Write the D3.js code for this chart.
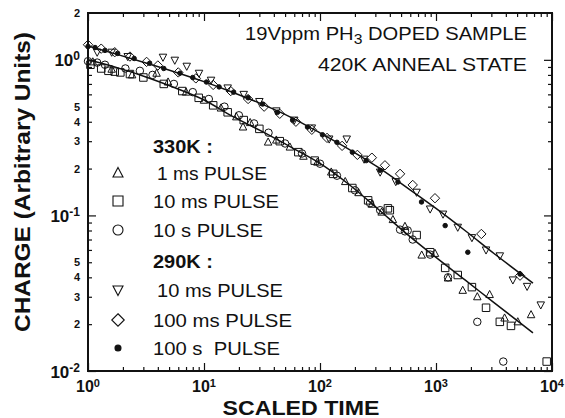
<!DOCTYPE html>
<html>
<head>
<meta charset="utf-8">
<script src="https://cdn.jsdelivr.net/npm/d3@7"></script>
<style>
  body { margin: 0; background: #fff; }
  text { font-family: "Liberation Sans", Arial, sans-serif; fill: #111; }
</style>
</head>
<body>
<div id="chart"></div>
<script>
// fitted curves (scaled time, charge)
const fitT   = [1, 1.78, 3.16, 5.62, 10, 17.8, 31.6, 56.2, 100, 178, 316, 562, 1000, 1778, 3162, 6855];
const fit290 = [1.227, 1.084, 0.955, 0.836, 0.724, 0.617, 0.519, 0.427, 0.339, 0.266, 0.204, 0.151, 0.111, 0.080, 0.0569, 0.0367];
const fit330 = [1.0, 0.891, 0.776, 0.661, 0.552, 0.431, 0.347, 0.275, 0.216, 0.158, 0.110, 0.0759, 0.0537, 0.0385, 0.0275, 0.0176];

// 330K measurements
const tri1ms = [[1.1,0.97],[1.6,0.87],[2.4,0.80],[3.9,0.82],[4.9,0.72],[7,0.62],[10,0.55],[14,0.49],[19,0.43],[21.7,0.37],
  [25,0.395],[35.7,0.296],[42,0.305],[55,0.275],[72,0.24],[95,0.22],[125,0.19],[165,0.165],[215,0.14],[280,0.118],
  [340,0.105],[425,0.094],[540,0.085],[753,0.0556],[980,0.057],[1270,0.0396],[1700,0.033],[2270,0.030],[2900,0.031],
  [3900,0.0219],[5070,0.0207],[6600,0.023]];
const sq10ms = [[1.05,0.93],[1.3,0.88],[1.5,0.85],[1.7,0.84],[1.9,0.83],[2.3,0.81],[3.0,0.77],[4.5,0.70],[6.5,0.63],
  [9,0.57],[12,0.51],[16,0.46],[22,0.41],[30,0.36],[45,0.30],[65,0.255],[90,0.225],[130,0.185],[190,0.15],[260,0.125],
  [385,0.111],[400,0.108],[681,0.0748],[890,0.058],[1200,0.046],[1540,0.0414],[2040,0.0346],[2700,0.0255],[3550,0.0207],
  [4430,0.0195],[9000,0.0115]];
const circ10s = [[1.0,0.98],[1.2,0.96],[1.4,0.93],[2.1,0.88],[2.8,0.85],[3.6,0.80],[5.5,0.70],[8,0.62],[11,0.56],[15,0.50],
  [20,0.44],[27,0.39],[36,0.34],[50,0.29],[70,0.25],[100,0.215],[140,0.18],[200,0.145],[270,0.12],[330,0.108],[490,0.081],
  [540,0.079],[570,0.08],[630,0.07],[890,0.056],[1270,0.04],[2270,0.0207],[3800,0.0115]];

// 290K measurements
const dtri10ms = [[1.2,1.12],[1.6,1.12],[2.2,1.05],[4.43,1.04],[5.6,0.995],[7.1,0.91],[9.06,0.82],[11.5,0.74],[16,0.66],
  [22,0.6],[30,0.54],[42,0.47],[60,0.41],[85,0.365],[120,0.31],[170,0.31],[240,0.23],[330,0.19],[450,0.165],[680,0.141],
  [890,0.11],[1150,0.102],[1540,0.084],[2040,0.072],[2700,0.06],[3550,0.055],[4600,0.0385],[6100,0.035],[8000,0.0266]];
const dia100ms = [[1.0,1.25],[1.3,1.18],[1.7,1.12],[2.3,1.05],[3.2,0.97],[4.0,0.92],[6,0.83],[8.5,0.76],[12,0.69],[17,0.63],
  [24,0.56],[33,0.50],[45,0.45],[62,0.40],[85,0.355],[115,0.315],[155,0.28],[210,0.245],[280,0.235],[363,0.21],[490,0.185],
  [630,0.157],[980,0.129],[2460,0.076],[5300,0.041]];
const dot100s = [[1.0,1.22],[1.15,1.2],[1.4,1.15],[1.8,1.1],[2.5,1.02],[3.4,0.95],[4.5,0.88],[6.2,0.82],[8,0.77],[10.5,0.72],
  [13.5,0.67],[18,0.62],[24,0.57],[32,0.52],[43,0.46],[58,0.41],[78,0.37],[105,0.33],[140,0.295],[190,0.255],[250,0.225],
  [330,0.195],[470,0.164],[750,0.122],[1200,0.086],[1880,0.058],[5300,0.042]];

// ticks and labels
const xMajor = [1, 10, 100, 1000, 10000];
const yMajor = [0.01, 0.1, 1];
const yLabelMinor = [2, 0.5, 0.4, 0.3, 0.2, 0.05, 0.04, 0.03, 0.02];
const legendLabels = ["1 ms PULSE", "10 ms PULSE", "10 s PULSE", "10 ms PULSE", "100 ms PULSE", "100 s  PULSE"];
const legendHeads = ["330K :", "290K :"];

const margin = {top: 13, right: 13, bottom: 47, left: 88},
      width = 565 - margin.left - margin.right,
      height = 418 - margin.top - margin.bottom;

const x = d3.scaleLog().domain([1, 1e4]).range([0, width]);
const y = d3.scaleLog().domain([0.01, 2]).range([height, 0]);

const svg = d3.select("#chart").append("svg")
    .attr("width", 565)
    .attr("height", 418)
  .append("g")
    .attr("transform", "translate(" + margin.left + "," + margin.top + ")");

// minor ticks
const xMinor = [], yMinor = [];
[1, 10, 100, 1000].forEach(d => { for (let k = 2; k <= 9; k++) xMinor.push(d * k); });
[0.01, 0.1].forEach(d => { for (let k = 2; k <= 9; k++) yMinor.push(d * k); });

function ticks(axis, vals, size, tr) {
  svg.append("g")
     .attr("transform", tr || null)
     .call(axis.tickValues(vals).tickSize(size).tickFormat(""))
     .call(g => g.select(".domain").remove())
     .call(g => g.selectAll("line").attr("stroke", "#111").attr("stroke-width", 1.2));
}
ticks(d3.axisBottom(x), xMajor, -8, "translate(0," + height + ")");
ticks(d3.axisBottom(x), xMinor, -4, "translate(0," + height + ")");
ticks(d3.axisTop(x), xMajor, -8);
ticks(d3.axisTop(x), xMinor, -4);
ticks(d3.axisLeft(y), yMajor, -8);
ticks(d3.axisLeft(y), yMinor, -4);
ticks(d3.axisRight(y), yMajor, -8, "translate(" + width + ",0)");
ticks(d3.axisRight(y), yMinor, -4, "translate(" + width + ",0)");

svg.append("rect")
   .attr("width", width).attr("height", height)
   .attr("fill", "none").attr("stroke", "#111").attr("stroke-width", 2);

// tick labels
const xl = svg.append("g").selectAll("text").data(xMajor).enter().append("text")
   .attr("x", d => x(d) - 12)
   .attr("y", height + 21)
   .style("font-size", "16px").style("font-weight", "bold");
xl.append("tspan").text("10");
xl.append("tspan").attr("dy", -5).style("font-size", "11px").text(d => Math.round(Math.log10(d)));

const yl = svg.append("g").selectAll("text").data(yMajor).enter().append("text")
   .attr("x", -8)
   .attr("y", d => y(d) + 6.5)
   .attr("text-anchor", "end")
   .style("font-size", "17px").style("font-weight", "bold");
yl.append("tspan").text("10");
yl.append("tspan").attr("dy", -6).style("font-size", "12px").text(d => Math.round(Math.log10(d)));

svg.append("g").selectAll("text").data(yLabelMinor).enter().append("text")
   .attr("x", -8)
   .attr("y", d => y(d) + 4)
   .attr("text-anchor", "end")
   .style("font-size", "11px").style("font-weight", "bold")
   .text(d => Math.round(d / Math.pow(10, Math.floor(Math.log10(d) + 1e-9))));

// fitted lines
const line = d3.line().x(d => x(d[0])).y(d => y(d[1])).curve(d3.curveMonotoneX);
[fit290, fit330].forEach(f => {
  svg.append("path")
     .datum(fitT.map((t, i) => [t, f[i]]))
     .attr("d", line)
     .attr("fill", "none").attr("stroke", "#111").attr("stroke-width", 1.5);
});

// marker shapes
function shape(type, s) {
  const h = s / 2;
  if (type === "tri") return "M0," + (-h * 1.1) + "L" + h + "," + (h * 0.8) + "L" + (-h) + "," + (h * 0.8) + "Z";
  if (type === "dtri") return "M0," + (h * 1.1) + "L" + h + "," + (-h * 0.8) + "L" + (-h) + "," + (-h * 0.8) + "Z";
  if (type === "sq") return "M" + (-h) + "," + (-h) + "h" + s + "v" + s + "h" + (-s) + "Z";
  if (type === "dia") return "M0," + (-h * 1.25) + "L" + (h * 1.25) + ",0L0," + (h * 1.25) + "L" + (-h * 1.25) + ",0Z";
  const r = type === "dot" ? s * 0.3 : h;
  return "M" + r + ",0A" + r + "," + r + " 0 1,1 " + (-r) + ",0A" + r + "," + r + " 0 1,1 " + r + ",0Z";
}

const series = [
  {data: tri1ms, type: "tri"}, {data: sq10ms, type: "sq"}, {data: circ10s, type: "circ"},
  {data: dtri10ms, type: "dtri"}, {data: dia100ms, type: "dia"}, {data: dot100s, type: "dot"}
];
series.forEach(s => {
  svg.append("g").selectAll("path").data(s.data).enter().append("path")
     .attr("transform", d => "translate(" + x(d[0]) + "," + y(d[1]) + ")")
     .attr("d", shape(s.type, 7.5))
     .attr("fill", s.type === "dot" ? "#111" : "none")
     .attr("stroke", "#111").attr("stroke-width", 1);
});

// legend
const legX = 118 - margin.left, legT = 154 - margin.left;
const rowY = [180, 208, 237, 297, 327, 355];
const rowW = [110, 126, 110, 126, 139, 127];
const rowX = [157, 153, 153, 157, 153, 153];
series.forEach((s, i) => {
  svg.append("path")
     .attr("transform", "translate(" + legX + "," + (rowY[i] - margin.top - 7) + ")")
     .attr("d", shape(s.type, 10))
     .attr("fill", s.type === "dot" ? "#111" : "none")
     .attr("stroke", "#111").attr("stroke-width", 1.1);
  svg.append("text")
     .attr("x", rowX[i] - margin.left)
     .attr("y", rowY[i] - margin.top)
     .attr("textLength", rowW[i]).attr("lengthAdjust", "spacingAndGlyphs")
     .style("font-size", "18px")
     .style("white-space", "pre")
     .text(legendLabels[i]);
});
[153, 268].forEach((yy, i) => {
  svg.append("text")
     .attr("x", legT - 1)
     .attr("y", yy - margin.top)
     .attr("textLength", 60).attr("lengthAdjust", "spacingAndGlyphs")
     .style("font-size", "18px").style("font-weight", "bold")
     .text(legendHeads[i]);
});

// annotation
const t1 = svg.append("text")
   .attr("x", 245 - margin.left).attr("y", 40 - margin.top)
   .attr("textLength", 282).attr("lengthAdjust", "spacingAndGlyphs")
   .style("font-size", "18px");
t1.append("tspan").text("19Vppm PH");
t1.append("tspan").attr("dy", 4).style("font-size", "14px").text("3");
t1.append("tspan").attr("dy", -4).text(" DOPED SAMPLE");
svg.append("text")
   .attr("x", 318 - margin.left).attr("y", 71 - margin.top)
   .attr("textLength", 209).attr("lengthAdjust", "spacingAndGlyphs")
   .style("font-size", "18px")
   .text("420K ANNEAL STATE");

// axis titles
svg.append("text")
   .attr("text-anchor", "middle")
   .attr("transform", "translate(" + (30 - margin.left) + "," + (182 - margin.top) + ")rotate(-90)")
   .attr("textLength", 300).attr("lengthAdjust", "spacingAndGlyphs")
   .style("font-size", "22px").style("font-weight", "bold")
   .text("CHARGE (Arbitrary Units)");

svg.append("text")
   .attr("text-anchor", "middle")
   .attr("x", 301 - margin.left).attr("y", 415 - margin.top)
   .attr("textLength", 157).attr("lengthAdjust", "spacingAndGlyphs")
   .style("font-size", "21px").style("font-weight", "bold")
   .text("SCALED TIME");
</script>
</body>
</html>
